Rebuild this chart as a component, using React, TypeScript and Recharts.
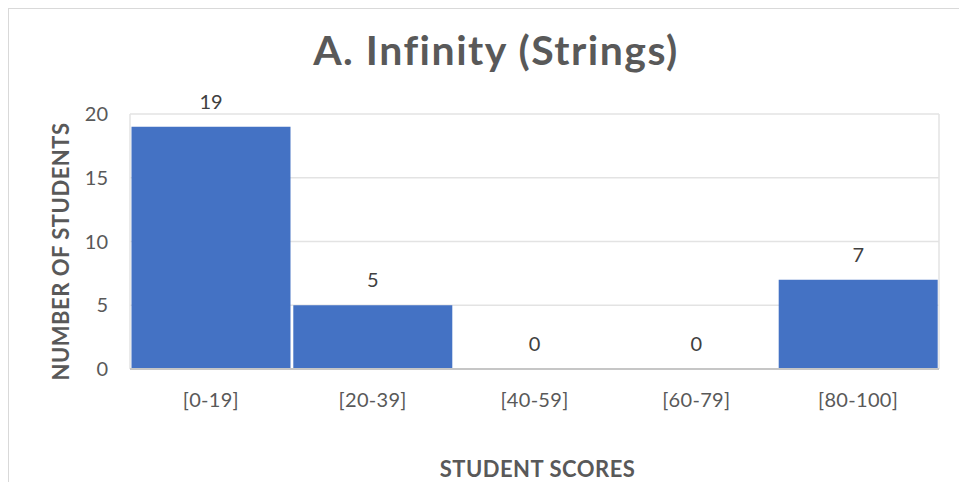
import React from 'react';
import {
  BarChart,
  Bar,
  XAxis,
  YAxis,
  CartesianGrid,
  LabelList,
  Label
} from 'recharts';

// score buckets and how many students fell into each
const scoreRanges = ['[0-19]', '[20-39]', '[40-59]', '[60-79]', '[80-100]'];
const studentCounts = [19, 5, 0, 0, 7];
const yTicks = [0, 5, 10, 15, 20];

const chartTitle = 'A. Infinity (Strings)';
const xTitle = 'STUDENT SCORES';
const yTitle = 'NUMBER OF STUDENTS';

const FONT = 'Lato, Carlito, Calibri, sans-serif';
const TEXT_GREY = '#595959';
const BAR_BLUE = '#4472C4';

const data = scoreRanges.map((range, i) => ({ range, count: studentCounts[i] }));

const W = 959;
const H = 482;
// plot area edges in page pixels
const PLOT_LEFT = 130;
const PLOT_RIGHT = 939;
const PLOT_TOP = 114;
const PLOT_BOTTOM = 369;
const Y_AXIS_W = 40;
const X_AXIS_H = 30;

const YTitle = ({ viewBox }: any) => {
  const cx = viewBox.x - 30;
  const cy = PLOT_TOP + (PLOT_BOTTOM - PLOT_TOP) / 2 + 10;
  return (
    <text
      x={cx}
      y={cy}
      transform={`rotate(-90, ${cx}, ${cy})`}
      textAnchor="middle"
      dominantBaseline="central"
      fontFamily={FONT}
      fontWeight={700}
      fontSize={22}
      letterSpacing={0.5}
      fill={TEXT_GREY}
    >
      {yTitle}
    </text>
  );
};

const XTitle = ({ viewBox }: any) => (
  <text
    x={viewBox.x + viewBox.width / 2 + 3}
    y={468}
    textAnchor="middle"
    dominantBaseline="central"
    fontFamily={FONT}
    fontWeight={700}
    fontSize={22}
    letterSpacing={0.5}
    fill={TEXT_GREY}
  >
    {xTitle}
  </text>
);

export default function App() {
  return (
    <div
      style={{
        position: 'absolute',
        left: 0,
        top: 0,
        width: W,
        height: H,
        overflow: 'hidden',
        background: '#fff'
      }}
    >
      {/* outer chart frame, runs off the right and bottom edges */}
      <div
        style={{
          position: 'absolute',
          left: 8,
          top: 8,
          width: W + 20,
          height: H + 20,
          border: '1.5px solid #d9d9d9',
          boxSizing: 'border-box'
        }}
      />
      <div
        style={{
          position: 'absolute',
          left: 0,
          top: 24,
          width: 992,
          textAlign: 'center',
          fontFamily: FONT,
          fontWeight: 700,
          fontSize: 41,
          letterSpacing: 1.5,
          lineHeight: '52px',
          color: TEXT_GREY
        }}
      >
        {chartTitle}
      </div>
      <div style={{ position: 'absolute', left: 0, top: 0 }}>
        <BarChart
          width={W}
          height={H}
          data={data}
          barCategoryGap={1.5}
          margin={{
            top: PLOT_TOP,
            right: W - PLOT_RIGHT,
            left: PLOT_LEFT - Y_AXIS_W,
            bottom: H - PLOT_BOTTOM - X_AXIS_H
          }}
        >
          <CartesianGrid
            stroke="#e3e3e3"
            strokeWidth={1.5}
            verticalCoordinatesGenerator={() => [PLOT_LEFT, PLOT_RIGHT]}
          />
          <XAxis
            dataKey="range"
            height={X_AXIS_H}
            tickLine={false}
            tickSize={0}
            tickMargin={24}
            axisLine={{ stroke: '#c6c6c6', strokeWidth: 2 }}
            tick={{ fill: TEXT_GREY, fontSize: 20, fontFamily: FONT, letterSpacing: 0.3 }}
          >
            <Label content={<XTitle />} />
          </XAxis>
          <YAxis
            width={Y_AXIS_W}
            domain={[0, 20]}
            ticks={yTicks}
            axisLine={false}
            tickLine={false}
            tickSize={0}
            tickMargin={22}
            tick={{ fill: TEXT_GREY, fontSize: 20, fontFamily: FONT }}
          >
            <Label content={<YTitle />} />
          </YAxis>
          {/* tiny minPointSize keeps the empty buckets so their "0" labels still show */}
          <Bar dataKey="count" fill={BAR_BLUE} minPointSize={0.01} isAnimationActive={false}>
            <LabelList
              dataKey="count"
              position="top"
              offset={18}
              formatter={(v: any) => String(v)}
              fill="#404040"
              fontSize={20}
              fontFamily={FONT}
            />
          </Bar>
        </BarChart>
      </div>
    </div>
  );
}
